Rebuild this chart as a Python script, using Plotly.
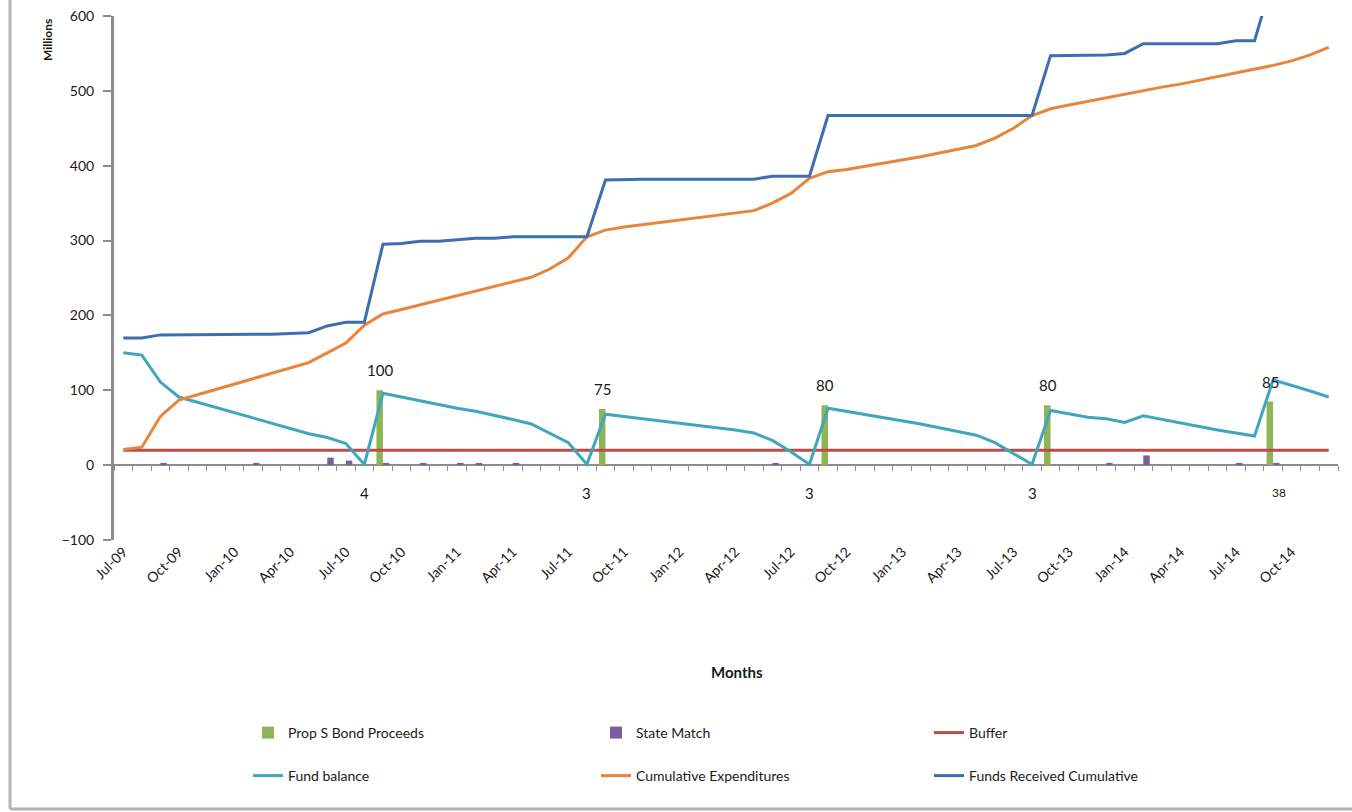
import plotly.graph_objects as go

months = ["Jul-09","Aug-09","Sep-09","Oct-09","Nov-09","Dec-09",
          "Jan-10","Feb-10","Mar-10","Apr-10","May-10","Jun-10","Jul-10","Aug-10","Sep-10","Oct-10","Nov-10","Dec-10",
          "Jan-11","Feb-11","Mar-11","Apr-11","May-11","Jun-11","Jul-11","Aug-11","Sep-11","Oct-11","Nov-11","Dec-11",
          "Jan-12","Feb-12","Mar-12","Apr-12","May-12","Jun-12","Jul-12","Aug-12","Sep-12","Oct-12","Nov-12","Dec-12",
          "Jan-13","Feb-13","Mar-13","Apr-13","May-13","Jun-13","Jul-13","Aug-13","Sep-13","Oct-13","Nov-13","Dec-13",
          "Jan-14","Feb-14","Mar-14","Apr-14","May-14","Jun-14","Jul-14","Aug-14","Sep-14","Oct-14","Nov-14","Dec-14"]

tick_labels = ["Jul-09","Oct-09","Jan-10","Apr-10","Jul-10","Oct-10","Jan-11","Apr-11","Jul-11","Oct-11",
               "Jan-12","Apr-12","Jul-12","Oct-12","Jan-13","Apr-13","Jul-13","Oct-13","Jan-14","Apr-14",
               "Jul-14","Oct-14"]

bond_months = ["Sep-10","Sep-11","Sep-12","Sep-13","Sep-14"]
bond_values = [100, 75, 80, 80, 85]

state_match_months = ["Sep-09","Feb-10","Jun-10","Jul-10","Sep-10","Nov-10","Jan-11","Feb-11","Apr-11",
                      "Jun-12","Dec-13","Feb-14","Jul-14","Sep-14"]
state_match_values = [3, 3, 10, 6, 3, 3, 3, 3, 3, 3, 3, 13, 3, 3]

buffer_value = 20

fund_balance = [150,147,111,91,84,77,70,63,56,49,42,37,29,1,
                96,91,86,81,76,72,67,61,55,43,30,1,
                68,65,62,59,56,53,50,47,43,33,18,1,
                76,72,68,64,60,55,50,45,40,30,16,1,
                73,68,64,62,57,66,61,56,51,47,43,39,
                114,107,99,91]

cumulative_expenditures = [21,24,65,87,94,101,108,115,122,129,137,150,163,187,
                           202,208,214,220,226,232,238,244,251,262,277,305,
                           314,318,321,324,327,330,334,337,340,350,363,383,
                           392,395,399,403,407,412,417,422,427,437,450,467,
                           476,481,486,491,496,500,505,509,514,518,523,529,534,540,548,558]

funds_received_cumulative = [170,170,174,174,174,174,174,175,175,176,177,186,191,191,
                             295,296,299,299,301,303,303,305,305,305,305,305,
                             381,382,382,382,382,382,382,382,382,386,386,386,
                             467,467,467,467,467,467,467,467,467,467,467,467,
                             547,547,547,548,550,563,563,563,563,563,567,567,
                             651,651,651,651]

note_months = ["Aug-10","Aug-11","Aug-12","Aug-13","Sep-14"]
note_texts = ["4","3","3","3","38"]

# ---------------------------------------------------------------
idx = {m: i for i, m in enumerate(months)}
xs = list(range(len(months)))
n = len(months)

bond_series = [None] * n
for m, v in zip(bond_months, bond_values):
    bond_series[idx[m]] = v
sm_series = [None] * n
for m, v in zip(state_match_months, state_match_values):
    sm_series[idx[m]] = v

FONT = "Lato, 'Open Sans', sans-serif"
TXT = "#1a1a1a"
AX = "#8c8c8c"

L, R, T, B = 114, 14, 16, 272
W, H = 1352, 812
pw, ph = W - L - R, H - T - B

def px(x):
    return (x - L) / pw

def py(y):
    return (H - B - y) / ph

# legend cells: (legend id, text-start x in px, row centre y in px)
legend_cells = [("legend", 291, 733), ("legend2", 639, 733), ("legend3", 972, 733),
                ("legend4", 291, 776), ("legend5", 639, 776), ("legend6", 972, 776)]

fig = go.Figure()
fig.add_trace(go.Bar(x=xs, y=bond_series, name="Prop S Bond Proceeds",
                     marker=dict(color="#8FB453", line=dict(width=0)), legend="legend"))
fig.add_trace(go.Bar(x=xs, y=sm_series, name="State Match",
                     marker=dict(color="#7A5E9F", line=dict(width=0)), legend="legend2"))
fig.add_trace(go.Scatter(x=xs, y=[buffer_value] * n, name="Buffer", mode="lines",
                         line=dict(color="#BE4B48", width=3), legend="legend3"))
fig.add_trace(go.Scatter(x=xs, y=fund_balance, name="Fund balance", mode="lines",
                         line=dict(color="#40A5BF", width=3), legend="legend4"))
fig.add_trace(go.Scatter(x=xs, y=cumulative_expenditures, name="Cumulative Expenditures", mode="lines",
                         line=dict(color="#E8853A", width=3), legend="legend5"))
fig.add_trace(go.Scatter(x=xs, y=funds_received_cumulative, name="Funds Received Cumulative", mode="lines",
                         line=dict(color="#3D6EB2", width=3), legend="legend6"))
# helper (no visible marks) so the zero-crossing category axis is drawn
fig.add_trace(go.Scatter(x=xs, y=[None] * n, xaxis="x2", yaxis="y", mode="lines",
                         showlegend=False, hoverinfo="skip"))

annotations = []
for m, v in zip(bond_months, bond_values):
    annotations.append(dict(x=idx[m], y=v, xref="x", yref="y", text=str(v), showarrow=False,
                            yanchor="bottom", yshift=9, xshift=-3,
                            font=dict(family=FONT, size=15, color=TXT)))
for m, t in zip(note_months, note_texts):
    small = len(t) > 1
    annotations.append(dict(x=idx[m], y=-37, xref="x", yref="y", text=t, showarrow=False,
                            yanchor="middle", xshift=6 if small else 0,
                            font=dict(family=FONT, size=12 if small else 15, color=TXT)))

annotations.append(dict(x=px(48), y=py(40), xref="paper", yref="paper", text="<b>Millions</b>",
                        textangle=-90, showarrow=False, xanchor="center", yanchor="middle",
                        font=dict(family=FONT, size=12, color=TXT)))
annotations.append(dict(x=px(737), y=py(672), xref="paper", yref="paper", text="<b>Months</b>",
                        showarrow=False, xanchor="center", yanchor="middle",
                        font=dict(family=FONT, size=15, color=TXT)))

shapes = [
    dict(type="line", xref="paper", yref="paper", x0=px(10), x1=px(10), y0=py(0), y1=py(809),
         line=dict(color="#b4b4b4", width=3)),
    dict(type="line", xref="paper", yref="paper", x0=px(10), x1=px(1352), y0=py(809), y1=py(809),
         line=dict(color="#b4b4b4", width=3)),
]

legend_layout = {}
for lid, tx, ty in legend_cells:
    legend_layout[lid] = dict(orientation="h", x=px(tx - 43), y=py(ty), xanchor="left", yanchor="middle",
                              font=dict(family=FONT, size=14, color=TXT),
                              bgcolor="rgba(0,0,0,0)", borderwidth=0)

fig.update_layout(
    width=W, height=H,
    margin=dict(l=L, r=R, t=T, b=B, autoexpand=False),
    paper_bgcolor="white", plot_bgcolor="white",
    font=dict(family=FONT, size=14, color=TXT),
    barmode="group", bargap=0.3, bargroupgap=0,
    xaxis=dict(range=[-0.5, n - 0.5], tickmode="array",
               tickvals=[idx[t] for t in tick_labels], ticktext=tick_labels,
               tickangle=-45, showline=False, ticks="", showgrid=False, zeroline=False,
               tickfont=dict(family=FONT, size=14, color=TXT)),
    xaxis2=dict(overlaying="x", anchor="free", position=100 / 700, side="bottom",
                range=[-0.5, n - 0.5], tickmode="linear", tick0=-0.5, dtick=1,
                ticks="outside", ticklen=5, tickcolor=AX, tickwidth=1,
                showticklabels=False, showline=True, linecolor=AX, linewidth=2,
                showgrid=False, zeroline=False, layer="below traces"),
    yaxis=dict(range=[-100, 600], dtick=100, tick0=0, showline=True, linecolor=AX, linewidth=3,
               ticks="outside", ticklen=8, tickcolor=AX, tickwidth=1.5, showgrid=False,
               zeroline=False, ticklabelstandoff=6,
               tickfont=dict(family=FONT, size=14, color=TXT)),
    annotations=annotations,
    shapes=shapes,
    **legend_layout,
)

fig.write_html("out.html", config={"displayModeBar": False},
               post_script="document.body.style.margin='0';document.body.style.overflow='hidden';")
